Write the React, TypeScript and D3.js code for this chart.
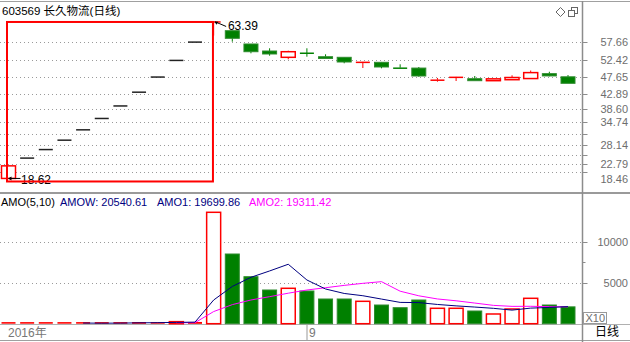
import React from "react";
import * as d3 from "d3";

// ---- data ----
const opens = [18.62, 24.44, 26.88, 29.57, 32.53, 35.78, 39.36, 43.3, 47.63, 52.39, 57.63, 63.39, 60.89, 57.09, 55.08, 53.28, 54.48, 53.45, 53.28, 51.65, 51.85, 50.31, 50.2, 46.59, 47.36, 47.16, 46.59, 46.87, 47.2, 48.6, 47.7];
const highs = [22.22, 24.44, 26.88, 29.57, 32.53, 35.78, 39.36, 43.3, 47.63, 52.39, 57.63, 63.39, 60.95, 57.09, 55.86, 55.17, 55.86, 54.14, 53.35, 52.05, 51.95, 51.28, 50.5, 47.36, 47.76, 47.93, 47.2, 48.13, 49.5, 49.15, 48.2];
const lows = [18.62, 24.44, 26.88, 29.57, 32.53, 35.78, 39.36, 43.3, 47.63, 52.39, 57.63, 59.5, 57.75, 54.42, 53.74, 52.71, 53.45, 52.88, 51.57, 50.22, 50.13, 50.0, 47.73, 46.3, 46.5, 46.59, 46.59, 46.87, 47.2, 47.85, 45.84];
const closes = [22.22, 24.44, 26.88, 29.57, 32.53, 35.78, 39.36, 43.3, 47.63, 52.39, 57.63, 63.39, 58.72, 54.88, 54.23, 54.88, 54.4, 52.95, 51.94, 52.02, 50.51, 50.02, 47.93, 46.87, 47.73, 46.59, 47.12, 47.5, 48.9, 47.95, 45.84];
const volumes = [150, 60, 50, 60, 70, 80, 100, 220, 150, 250, 230, 13585, 8500, 5732, 4110, 4317, 3988, 3012, 3012, 2730, 2280, 1951, 2890, 1878, 1878, 1549, 1183, 1793, 3097, 2280, 2054];

const priceGrid = [20.51, 22.79, 25.32, 28.14, 31.27, 34.74, 38.6, 42.89, 47.65, 52.42, 57.66];
const priceLabels = ["57.66", "52.42", "47.65", "42.89", "38.60", "34.74", "28.14", "22.79", "18.46"];
const volGrid = [5000, 10000];
const volTicks = [5000, 7500, 10000];
const volLabels = ["10000", "5000"];

const title = "603569 长久物流(日线)";
const amoTitles = [
  { text: "AMO(5,10)", color: "#000000" },
  { text: "AMOW: 20540.61", color: "#000080" },
  { text: "AMO1: 19699.86", color: "#000080" },
  { text: "AMO2: 19311.42", color: "#ff00ff" },
];
const highMark = { index: 11, value: 63.39, label: "63.39" };
const lowMark = { index: 0, value: 18.62, label: "18.62" };
const boxRange = { from: 0, to: 11, low: 17.75, high: 63.39 };
const maPeriods = [5, 10];

const W = 630;
const H = 342;
const RED = "#ff0000";
const GREEN = "#008000";
const FONT = "'Liberation Sans', Arial, 'Noto Sans CJK SC', sans-serif";

function movingAvg(arr: number[], n: number) {
  const out: [number, number][] = [];
  for (let i = n - 1; i < arr.length; i++) {
    out.push([i, d3.mean(arr.slice(i - n + 1, i + 1)) as number]);
  }
  return out;
}

export default function App() {
  const n = opens.length;
  const x = d3.scaleLinear().domain([0, n - 1]).range([8.5, 568]);
  const yP = d3.scaleLinear().domain([18.46, 57.66]).range([179, 42]);
  const yV = d3.scaleLinear().domain([0, 10000]).range([323.7, 241.7]);
  const bw = 14;
  const axisX = 582.5;

  const ma5 = movingAvg(volumes, maPeriods[0]);
  const ma10 = movingAvg(volumes, maPeriods[1]);
  const line = d3
    .line<[number, number]>()
    .x((d) => x(d[0]))
    .y((d) => yV(d[1]));

  const amoX = [1, 60, 157, 249];

  return (
    <svg
      width={W}
      height={H}
      style={{ position: "absolute", left: 0, top: 0, display: "block", background: "#fff" }}
      fontFamily={FONT}
    >
      <rect x={0} y={0} width={W} height={H} fill="#fff" />
      {/* frame lines */}
      <line x1={0} x2={W} y1={1.5} y2={1.5} stroke="#a0a0a0" strokeWidth={1} />
      <line x1={0} x2={W} y1={193} y2={193} stroke="#9a9a9a" strokeWidth={2} />
      <line x1={0} x2={W} y1={324.5} y2={324.5} stroke="#b0b0b0" strokeWidth={1} />
      <line x1={0} x2={W} y1={340.5} y2={340.5} stroke="#a0a0a0" strokeWidth={1} />
      <line x1={axisX} x2={axisX} y1={1} y2={H} stroke="#8c8c8c" strokeWidth={1.5} />

      {/* title */}
      <text x={2} y={15} fontSize={11.5} fill="#000">{title}</text>

      {/* top-right icons */}
      <path d="M560.5,7.5 L565,12 L560.5,16.5 L556,12 Z" fill="none" stroke="#666" strokeWidth={1} />
      <rect x={571.5} y={7.5} width={6} height={6} fill="#fff" stroke="#666" strokeWidth={1} />
      <rect x={568.5} y={10.5} width={6} height={6} fill="#fff" stroke="#666" strokeWidth={1} />

      {/* price gridlines */}
      {priceGrid.map((v, i) => (
        <g key={"pg" + i}>
          <line x1={0} x2={axisX} y1={Math.round(yP(v)) + 0.5} y2={Math.round(yP(v)) + 0.5} stroke="#9a9a9a" strokeDasharray="1,3" />
          <line x1={axisX} x2={axisX + 5} y1={Math.round(yP(v)) + 0.5} y2={Math.round(yP(v)) + 0.5} stroke="#8c8c8c" />
        </g>
      ))}
      {priceLabels.map((s, i) => (
        <text key={"pl" + i} x={628} y={yP(+s) + 4} fontSize={11} fill="#6e6e6e" textAnchor="end">
          {s}
        </text>
      ))}

      {/* candles */}
      {opens.map((o, i) => {
        const c = closes[i];
        const h = highs[i];
        const l = lows[i];
        const cx = x(i);
        const top = yP(Math.max(o, c));
        const bot = yP(Math.min(o, c));
        if (h === l) {
          return (
            <line key={"c" + i} x1={cx - bw / 2} x2={cx + bw / 2} y1={yP(c)} y2={yP(c)} stroke="#222" strokeWidth={1.5} />
          );
        }
        const up = c >= o;
        const col = up ? RED : GREEN;
        return (
          <g key={"c" + i}>
            <line x1={cx} x2={cx} y1={yP(h)} y2={top} stroke={col} strokeWidth={1} />
            <line x1={cx} x2={cx} y1={bot} y2={yP(l)} stroke={col} strokeWidth={1} />
            {Math.abs(bot - top) < 1.5 ? (
              <line x1={cx - bw / 2} x2={cx + bw / 2} y1={(top + bot) / 2} y2={(top + bot) / 2} stroke={col} strokeWidth={Math.max(1.5, bot - top)} />
            ) : (
              <rect
                x={cx - bw / 2}
                y={top}
                width={bw}
                height={bot - top}
                fill={up ? "#fff" : GREEN}
                stroke={up ? RED : "#2e8b2e"}
                strokeWidth={up ? 1.5 : 1}
              />
            )}
          </g>
        );
      })}

      {/* markers */}
      <text x={x(lowMark.index) + 12.5} y={yP(lowMark.value) + 6} fontSize={12} fill="#000">{lowMark.label}</text>
      <line x1={x(lowMark.index) + 1} x2={x(lowMark.index) + 12} y1={yP(lowMark.value)} y2={yP(lowMark.value)} stroke="#000" />
      <path d={`M${x(lowMark.index) - 0.5},${yP(lowMark.value)} l3.5,-2 l0,4 Z`} fill="#000" />
      <text x={x(highMark.index) + 14.3} y={yP(highMark.value) + 8.5} fontSize={12} fill="#000">{highMark.label}</text>
      <path
        d={`M${x(highMark.index) + 1.5},${yP(highMark.value)} L${x(highMark.index) + 5.5},${yP(highMark.value) + 1.5} L${x(highMark.index) + 12.5},${yP(highMark.value) + 4.5}`}
        fill="none"
        stroke="#000"
      />
      <path d={`M${x(highMark.index) + 1},${yP(highMark.value) - 0.5} l3.5,0.3 l-1.8,3 Z`} fill="#000" />

      {/* highlight box */}
      <rect
        x={x(boxRange.from) - 1.5}
        y={yP(boxRange.high)}
        width={x(boxRange.to) - 0.7 - (x(boxRange.from) - 1.5)}
        height={yP(boxRange.low) - yP(boxRange.high)}
        fill="none"
        stroke={RED}
        strokeWidth={2}
      />

      {/* volume panel header */}
      {amoTitles.map((t, i) => (
        <text key={"at" + i} x={amoX[i]} y={206} fontSize={11} fill={t.color}>{t.text}</text>
      ))}

      {/* volume gridlines */}
      {volGrid.map((v, i) => (
        <line key={"vg" + i} x1={0} x2={axisX} y1={Math.round(yV(v)) + 0.5} y2={Math.round(yV(v)) + 0.5} stroke="#9a9a9a" strokeDasharray="1,3" />
      ))}
      {volTicks.map((v, i) => (
        <line key={"vt" + i} x1={axisX} x2={axisX + (v % 5000 === 0 ? 5 : 3)} y1={Math.round(yV(v)) + 0.5} y2={Math.round(yV(v)) + 0.5} stroke="#8c8c8c" />
      ))}
      {volLabels.map((s, i) => (
        <text key={"vl" + i} x={628} y={yV(+s) + 4} fontSize={11} fill="#6e6e6e" textAnchor="end">{s}</text>
      ))}

      {/* volume bars */}
      {volumes.map((v, i) => {
        const up = closes[i] >= opens[i];
        const cx = x(i);
        const top = yV(v);
        const bot = yV(0);
        if (bot - top < 2) {
          return <line key={"v" + i} x1={cx - bw / 2} x2={cx + bw / 2} y1={bot - 0.8} y2={bot - 0.8} stroke={up ? RED : GREEN} strokeWidth={Math.max(1.6, bot - top)} />;
        }
        return (
          <rect
            key={"v" + i}
            x={cx - bw / 2}
            y={top}
            width={bw}
            height={bot - top}
            fill={up ? "#fff" : GREEN}
            stroke={up ? RED : "#2e8b2e"}
            strokeWidth={up ? 1.5 : 1}
          />
        );
      })}

      {/* moving averages */}
      <path d={line(ma10) || ""} fill="none" stroke="#ff00ff" strokeWidth={1} />
      <path d={line(ma5) || ""} fill="none" stroke="#000080" strokeWidth={1} />

      {/* X10 box */}
      <rect x={583.5} y={312.5} width={23} height={11} fill="#fff" stroke="#999" />
      <text x={585.5} y={322} fontSize={11} fill="#6e6e6e">X10</text>

      {/* bottom strip */}
      <text x={8} y={337} fontSize={12} fill="#777">2016年</text>
      <line x1={307} x2={307} y1={325} y2={340} stroke="#999" />
      <text x={309} y={337} fontSize={12} fill="#777">9</text>
      <text x={595} y={336} fontSize={12} fill="#000">日线</text>
    </svg>
  );
}
